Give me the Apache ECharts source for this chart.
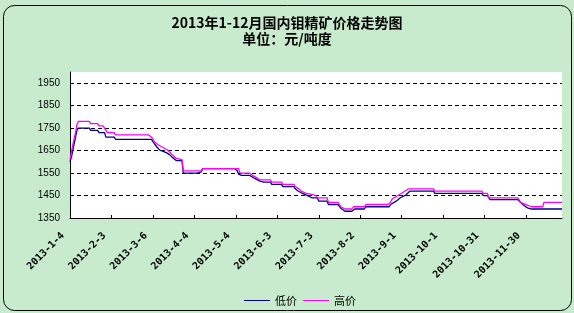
<!DOCTYPE html>
<html>
<head>
<meta charset="utf-8">
<script src="https://cdn.jsdelivr.net/npm/echarts@6/dist/echarts.min.js"></script>
<style>
html,body{margin:0;padding:0;background:#C7EBCC;}
#c{width:574px;height:313px;}
</style>
</head>
<body>
<div id="c"></div>
<script>
// Tick labels on the day axis (one every 30 days)
const xLabels = ['2013-1-4','2013-2-3','2013-3-6','2013-4-4','2013-5-4','2013-6-3','2013-7-3','2013-8-2','2013-9-1','2013-10-1','2013-10-31','2013-11-30'];
const tickDays = [0,30,60,90,120,150,180,210,240,270,300,330];
const yTicks = [1350,1450,1550,1650,1750,1850,1950];

// 低价 (low price): [day index, price]
const lowPoints = [[0,1600],[1,1620],[2,1650],[4,1710],[5,1740],[6,1750],[14,1750],[15,1740],[20,1740],[21,1730],[25,1730],[26,1710],[32,1710],[33,1700],[59,1700],[60,1690],[63,1665],[65,1652],[67,1648],[70,1640],[72,1632],[74,1620],[77,1605],[81,1605],[82,1550],[92,1550],[93,1555],[95,1555],[96,1570],[119,1570],[121,1560],[122,1545],[124,1540],[130,1540],[131,1535],[134,1525],[137,1515],[140,1510],[145,1510],[146,1500],[153,1500],[154,1490],[162,1490],[163,1480],[165,1470],[168,1460],[170,1455],[175,1440],[179,1440],[180,1425],[186,1425],[187,1410],[194,1410],[196,1393],[199,1380],[204,1380],[206,1390],[213,1390],[214,1400],[231,1400],[232,1410],[236,1425],[239,1440],[243,1452],[246,1470],[263,1470],[264,1460],[298,1460],[299,1450],[302,1450],[304,1432],[324,1432],[326,1420],[328,1408],[331,1395],[334,1390],[356,1390]];

// 高价 (high price): [day index, price]
const highPoints = [[0,1610],[2,1675],[4,1730],[5,1765],[6,1780],[14,1780],[15,1770],[20,1770],[21,1760],[24,1760],[25,1750],[26,1750],[27,1730],[32,1730],[33,1720],[57,1720],[59,1710],[61,1690],[64,1675],[67,1665],[70,1655],[72,1645],[74,1630],[77,1615],[81,1610],[82,1560],[95,1560],[96,1570],[122,1570],[123,1550],[130,1550],[132,1540],[135,1530],[137,1520],[145,1520],[146,1510],[153,1510],[154,1500],[162,1500],[163,1490],[165,1482],[166,1475],[168,1467],[171,1460],[175,1455],[178,1450],[179,1440],[186,1440],[187,1420],[194,1420],[196,1400],[199,1390],[204,1390],[205,1400],[213,1400],[214,1410],[230,1410],[232,1420],[233,1434],[237,1449],[240,1460],[245,1480],[263,1480],[264,1470],[298,1470],[299,1460],[302,1460],[303,1440],[324,1440],[325,1430],[326,1420],[330,1410],[334,1400],[342,1400],[343,1420],[356,1420]];

const chart = echarts.init(document.getElementById('c'), null, {renderer:'canvas'});
chart.setOption({
  backgroundColor: '#C7EBCC',
  animation: false,
  title: {
    text: '2013年1-12月国内钼精矿价格走势图',
    subtext: '单位：元/吨度',
    left: 'center',
    top: 16,
    padding: 0,
    itemGap: 2,
    textStyle: {fontFamily: '"Noto Sans CJK SC"', fontSize: 14, fontWeight: 'bold', color: '#000', lineHeight: 14},
    subtextStyle: {fontFamily: '"Noto Sans CJK SC"', fontSize: 14, fontWeight: 'bold', color: '#000', lineHeight: 14}
  },
  graphic: [{
    type: 'rect',
    shape: {x: 3.5, y: 5.5, width: 568, height: 305, r: 11},
    style: {fill: 'none', stroke: '#000', lineWidth: 1},
    silent: true
  }],
  legend: {
    data: ['低价','高价'],
    left: 244,
    top: 295,
    padding: 0,
    itemGap: 6,
    itemWidth: 26,
    itemHeight: 1,
    icon: 'rect',
    textStyle: {fontFamily: '"Noto Sans CJK SC"', fontSize: 11, color: '#000'}
  },
  grid: {left: 70, right: 12, top: 72, bottom: 95, show: true, backgroundColor: '#fff', borderWidth: 0},
  xAxis: {
    type: 'value',
    min: 0,
    max: 356,
    axisLine: {show: true, lineStyle: {color: '#000', width: 1}},
    axisTick: {show: true, inside: true, length: 3, customValues: tickDays, lineStyle: {color: '#000'}},
    splitLine: {show: false},
    axisLabel: {
      customValues: tickDays,
      rotate: 45,
      margin: 9,
      padding: [0, 10, 0, 0],
      fontFamily: '"DejaVu Sans Mono"',
      fontWeight: 'bold',
      fontSize: 10,
      color: '#000',
      formatter: function (v) { const i = tickDays.indexOf(v); return i >= 0 ? xLabels[i] : ''; }
    }
  },
  yAxis: {
    type: 'value',
    min: 1350,
    max: 2000,
    interval: 100,
    axisLine: {show: true, lineStyle: {color: '#000', width: 1}},
    axisTick: {show: false},
    axisLabel: {
      customValues: yTicks,
      margin: 10,
      fontFamily: '"Liberation Sans"',
      fontSize: 10,
      color: '#000',
      formatter: function (v) { return String(v); }
    },
    splitLine: {show: true, showMinLine: false, showMaxLine: false, lineStyle: {color: '#000', type: [4, 3], width: 1}}
  },
  series: [
    {name: '低价', type: 'line', data: lowPoints, showSymbol: false, symbol: 'none', color: '#000080', lineStyle: {color: '#000080', width: 1.3}},
    {name: '高价', type: 'line', data: highPoints, showSymbol: false, symbol: 'none', color: '#FF00FF', lineStyle: {color: '#FF00FF', width: 1.3}}
  ]
});
</script>
</body>
</html>
